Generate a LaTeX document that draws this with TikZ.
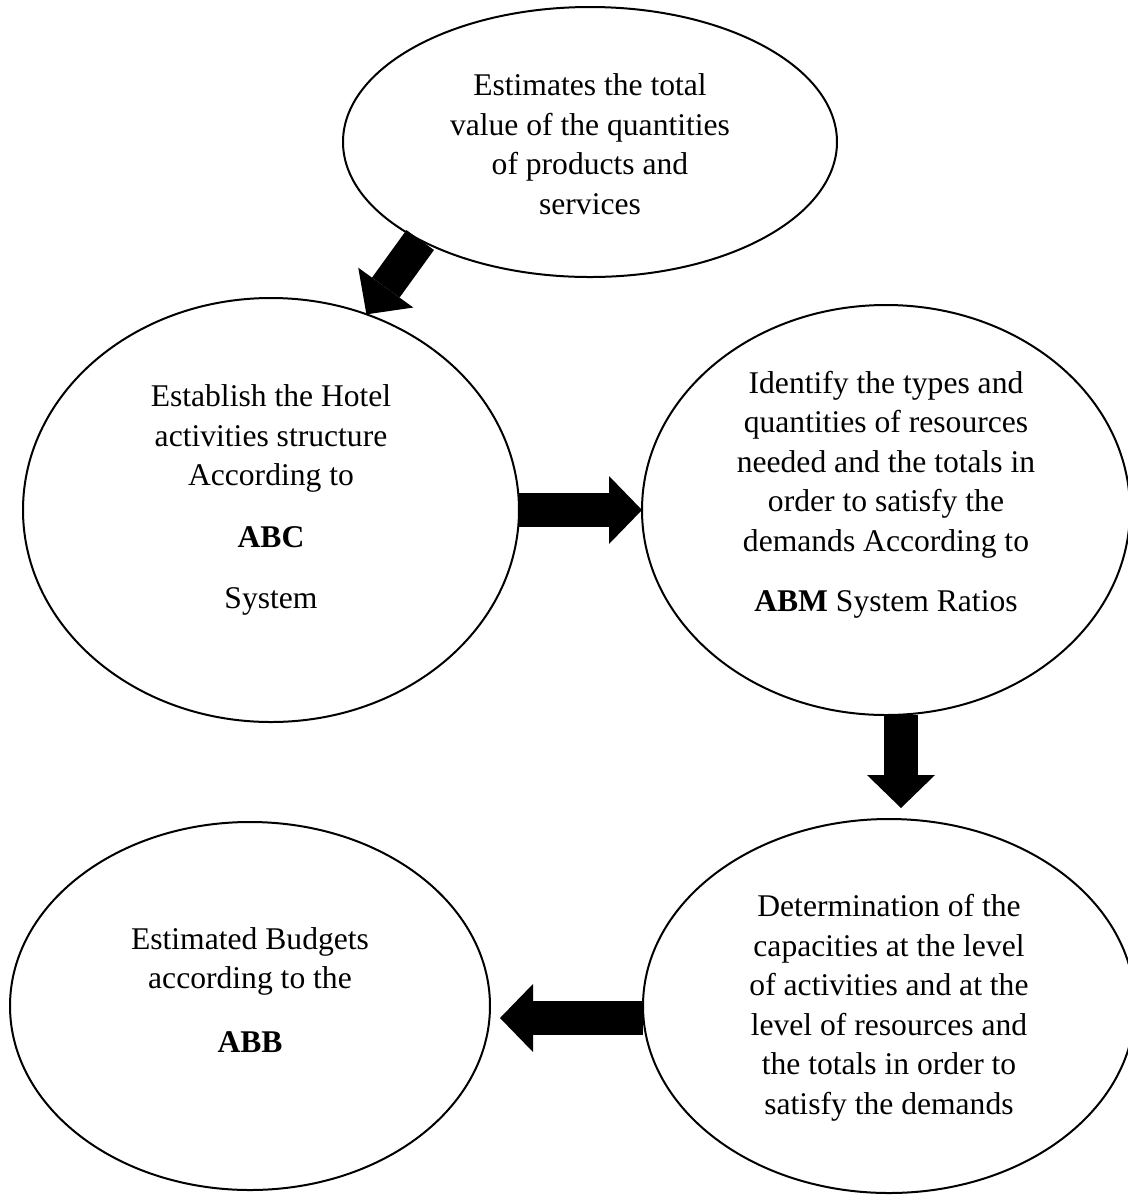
\documentclass[tikz,border=0pt]{standalone}
\usepackage{fontspec}
\setmainfont{Liberation Serif}
\usetikzlibrary{arrows.meta,calc,shapes.geometric}
\begin{document}
\begin{tikzpicture}[x=0.5pt,y=-0.5pt,
  bubble/.style={ellipse, draw=black, line width=1pt, inner sep=0pt, outer sep=0pt},
  caption/.style={align=center, inner sep=0pt, font=\fontsize{15.8pt}{19.75pt}\selectfont},
  blockarrow/.style={line width=17pt, draw=black,
    -{Triangle[length=16.5pt 0, width=34pt 0, line width=0pt 0]}},
]
\useasboundingbox (0,0) rectangle (1128,1196);
\fill[white] (0,0) rectangle (1128,1196);
\clip (0,0) rectangle (1128,1196);

% the five steps
\node[bubble, minimum width=247pt, minimum height=135pt] (est) at (590,142) {};
\node[bubble, minimum width=248pt, minimum height=212pt] (abc) at (271,510) {};
\node[bubble, minimum width=244pt, minimum height=205pt] (abm) at (886,510) {};
\node[bubble, minimum width=246pt, minimum height=187pt] (cap) at (889,1006) {};
\node[bubble, minimum width=240pt, minimum height=184pt] (abb) at (250,1006) {};

% texts
\node[caption] (estText) at (590,144) {Estimates the total\\value of the quantities\\of products and\\services};
\node[caption] (abcText) at (271,500) {Establish the Hotel\\activities structure\\According to\\[11pt]\textbf{ABC}\\[11pt]System};
\node[caption] (abmText) at (886,495) {Identify the types and\\quantities of resources\\needed and the totals in\\order to satisfy the\\demands According to\\[10.5pt]\textbf{ABM} System Ratios};
\node[caption] (capText) at (889,1008) {Determination of the\\capacities at the level\\of activities and at the\\level of resources and\\the totals in order to\\satisfy the demands};
\node[caption] (abbText) at (250,990) {Estimated Budgets\\according to the\\[12pt]\textbf{ABB}};

% block arrows between the steps
\draw[blockarrow] (est.210.7) -- (abc.64);
\draw[blockarrow] (abc.east) -- (abm.west);
\coordinate (dtail) at ($(abm.south)+(15,0)$);
\draw[blockarrow, shorten >=5.5pt] (dtail) -- (dtail |- cap.north);
\coordinate (ltail) at ($(cap.west)+(0,12)$);
\draw[blockarrow, shorten >=5pt] (ltail) -- (ltail -| abb.east);
\end{tikzpicture}
\end{document}
